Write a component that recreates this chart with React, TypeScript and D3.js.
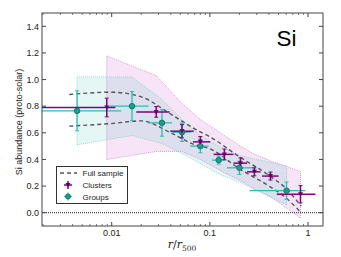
import React from "react";
import * as d3 from "d3";

// ---- data ----
const clusterX = [0.0089, 0.0284, 0.052, 0.08, 0.1405, 0.205, 0.284, 0.414, 0.838];
const clusterY = [0.79, 0.757, 0.612, 0.532, 0.438, 0.372, 0.307, 0.275, 0.138];
const clusterXLo = [0.0005, 0.0178, 0.0395, 0.0673, 0.109, 0.174, 0.239, 0.34, 0.48];
const clusterXHi = [0.0109, 0.0389, 0.0684, 0.101, 0.174, 0.239, 0.328, 0.5, 1.19];
const clusterYErr = [0.07, 0.04, 0.05, 0.04, 0.04, 0.04, 0.03, 0.03, 0.065];
const clusterBandHi = [1.177, 1.03, 0.82, 0.7, 0.58, 0.5, 0.44, 0.39, 0.31];
const clusterBandLo = [0.4, 0.46, 0.46, 0.4, 0.3, 0.24, 0.18, 0.12, -0.04];

const groupX = [0.00444, 0.0161, 0.0325, 0.052, 0.08, 0.123, 0.2, 0.604];
const groupY = [0.765, 0.8, 0.675, 0.605, 0.5, 0.395, 0.337, 0.165];
const groupXLo = [0.0005, 0.0095, 0.0232, 0.042, 0.063, 0.105, 0.149, 0.254];
const groupXHi = [0.0125, 0.0237, 0.041, 0.064, 0.097, 0.144, 0.29, 0.94];
const groupYErr = [0.15, 0.11, 0.1, 0.07, 0.05, 0.03, 0.05, 0.065];
const groupBandHi = [1.02, 1.02, 0.85, 0.7, 0.58, 0.5, 0.43, 0.35];
const groupBandLo = [0.51, 0.58, 0.52, 0.445, 0.37, 0.29, 0.23, 0.058];

const fullX = [0.0037, 0.01, 0.02, 0.04, 0.07, 0.1, 0.2, 0.4, 0.6, 0.85];
const fullUpper = [0.888, 0.905, 0.87, 0.74, 0.63, 0.57, 0.42, 0.28, 0.18, 0.05];
const fullLower = [0.65, 0.67, 0.69, 0.6, 0.51, 0.48, 0.33, 0.2, 0.11, 0.0];

const yTicks = [0.0, 0.2, 0.4, 0.6, 0.8, 1.0, 1.2, 1.4];
const xTicks = [0.01, 0.1, 1];
const xTickLabels = ["0.01", "0.1", "1"];

const W = 341, H = 257;
const L = 42, R = 323, T = 13, B = 226;
const FONT = "Liberation Sans, Arial, Helvetica, sans-serif";

const PURPLE = "#800080";
const TEAL = "#2bbdb0";

export default function App() {
  const x = d3.scaleLog().domain([0.00195, 1.42]).range([L, R]);
  const y = d3.scaleLinear().domain([-0.1, 1.5]).range([B, T]);

  const band = (xs: number[], lo: number[], hi: number[]) =>
    d3.area<number>().x((_, i) => x(xs[i])).y0((_, i) => y(lo[i])).y1((_, i) => y(hi[i]))(xs.map((_, i) => i)) || "";
  const edge = (xs: number[], ys: number[]) =>
    d3.line<number>().x((_, i) => x(xs[i])).y((_, i) => y(ys[i]))(xs.map((_, i) => i)) || "";
  const curve = (xs: number[], ys: number[]) =>
    d3.line<number>().curve(d3.curveMonotoneX).x((_, i) => x(xs[i])).y((_, i) => y(ys[i]))(xs.map((_, i) => i)) || "";

  const minorX: number[] = [];
  for (let e = -3; e <= 0; e++) for (let m = 1; m <= 9; m++) {
    const v = m * Math.pow(10, e);
    if (v >= 0.00195 && v <= 1.42 && m !== 1) minorX.push(v);
  }

  const clipId = "plotclip";

  return (
    <svg width={W} height={H} style={{ position: "absolute", left: 0, top: 0, background: "#fff" }} fontFamily={FONT}>
      <defs>
        <clipPath id={clipId}><rect x={L} y={T} width={R - L} height={B - T} /></clipPath>
      </defs>
      <rect x={0} y={0} width={W} height={H} fill="#fff" />
      <g clipPath={`url(#${clipId})`}>
        {/* bands */}
        <path d={band(clusterX, clusterBandLo, clusterBandHi)} fill="#cc55cc" fillOpacity={0.16} />
        <path d={band(groupX, groupBandLo, groupBandHi)} fill="#30c0b0" fillOpacity={0.13} />
        <path d={edge(clusterX, clusterBandHi)} fill="none" stroke="#d08ad0" strokeWidth={0.8} strokeDasharray="1,1" />
        <path d={edge(clusterX, clusterBandLo)} fill="none" stroke="#d08ad0" strokeWidth={0.8} strokeDasharray="1,1" />
        <path d={edge(groupX, groupBandHi)} fill="none" stroke="#7fd4cc" strokeWidth={0.8} strokeDasharray="1,1" />
        <path d={edge(groupX, groupBandLo)} fill="none" stroke="#7fd4cc" strokeWidth={0.8} strokeDasharray="1,1" />
        <line x1={x(clusterX[0])} x2={x(clusterX[0])} y1={y(clusterBandLo[0])} y2={y(clusterBandHi[0])} stroke="#d08ad0" strokeWidth={0.8} strokeDasharray="1,1" />
        <line x1={x(clusterX[8])} x2={x(clusterX[8])} y1={y(clusterBandLo[8])} y2={y(clusterBandHi[8])} stroke="#d08ad0" strokeWidth={0.8} strokeDasharray="1,1" />
        <line x1={x(groupX[0])} x2={x(groupX[0])} y1={y(groupBandLo[0])} y2={y(groupBandHi[0])} stroke="#7fd4cc" strokeWidth={0.8} strokeDasharray="1,1" />
        <line x1={x(groupX[7])} x2={x(groupX[7])} y1={y(groupBandLo[7])} y2={y(groupBandHi[7])} stroke="#7fd4cc" strokeWidth={0.8} strokeDasharray="1,1" />

        {/* zero line */}
        <line x1={L} x2={R} y1={y(0)} y2={y(0)} stroke="#222" strokeWidth={1} strokeDasharray="1,1" />

        {/* full sample */}
        <path d={curve(fullX, fullUpper)} fill="none" stroke="#555" strokeWidth={1.4} strokeDasharray="4,3" />
        <path d={curve(fullX, fullLower)} fill="none" stroke="#555" strokeWidth={1.4} strokeDasharray="4,3" />

        {/* groups */}
        {groupX.map((gx, i) => (
          <g key={"g" + i}>
            <line x1={x(groupXLo[i])} x2={x(groupXHi[i])} y1={y(groupY[i])} y2={y(groupY[i])} stroke={TEAL} strokeWidth={1.3} />
            <line x1={x(gx)} x2={x(gx)} y1={y(groupY[i] - groupYErr[i])} y2={y(groupY[i] + groupYErr[i])} stroke={TEAL} strokeWidth={1.3} />
            <line x1={x(gx) - 2} x2={x(gx) + 2} y1={y(groupY[i] - groupYErr[i])} y2={y(groupY[i] - groupYErr[i])} stroke={TEAL} strokeWidth={1} />
            <line x1={x(gx) - 2} x2={x(gx) + 2} y1={y(groupY[i] + groupYErr[i])} y2={y(groupY[i] + groupYErr[i])} stroke={TEAL} strokeWidth={1} />
          </g>
        ))}
        {/* clusters */}
        {clusterX.map((cx, i) => (
          <g key={"c" + i}>
            <line x1={x(clusterXLo[i])} x2={x(clusterXHi[i])} y1={y(clusterY[i])} y2={y(clusterY[i])} stroke={PURPLE} strokeWidth={1.5} />
            <line x1={x(cx)} x2={x(cx)} y1={y(clusterY[i] - clusterYErr[i])} y2={y(clusterY[i] + clusterYErr[i])} stroke={PURPLE} strokeWidth={1.5} />
            <line x1={x(cx) - 2} x2={x(cx) + 2} y1={y(clusterY[i] - clusterYErr[i])} y2={y(clusterY[i] - clusterYErr[i])} stroke={PURPLE} strokeWidth={1} />
            <line x1={x(cx) - 2} x2={x(cx) + 2} y1={y(clusterY[i] + clusterYErr[i])} y2={y(clusterY[i] + clusterYErr[i])} stroke={PURPLE} strokeWidth={1} />
          </g>
        ))}
        {groupX.map((gx, i) => (
          <circle key={"gm" + i} cx={x(gx)} cy={y(groupY[i])} r={2.8} fill="#1e9c8e" stroke="#0d6b62" strokeWidth={0.8} />
        ))}
        {clusterX.map((cx, i) => (
          <path key={"cm" + i} d={`M${x(cx) - 2.5},${y(clusterY[i]) - 2} L${x(cx) + 2.5},${y(clusterY[i]) - 2} L${x(cx)},${y(clusterY[i]) + 2.5} Z`} fill="#5a0a5a" />
        ))}
      </g>

      {/* frame */}
      <rect x={L} y={T} width={R - L} height={B - T} fill="none" stroke="#444" strokeWidth={1} />

      {/* y ticks */}
      {yTicks.map((t) => (
        <g key={"yt" + t}>
          <line x1={L} x2={L + 4} y1={y(t)} y2={y(t)} stroke="#444" />
          <line x1={R} x2={R - 4} y1={y(t)} y2={y(t)} stroke="#444" />
          <text x={L - 3} y={y(t) + 3.2} fontSize={9} textAnchor="end" fill="#222">{t.toFixed(1)}</text>
        </g>
      ))}
      {/* x ticks */}
      {xTicks.map((t, i) => (
        <g key={"xt" + t}>
          <line x1={x(t)} x2={x(t)} y1={B} y2={B - 4} stroke="#444" />
          <line x1={x(t)} x2={x(t)} y1={T} y2={T + 4} stroke="#444" />
          <text x={x(t)} y={B + 10} fontSize={9} textAnchor="middle" fill="#222">{xTickLabels[i]}</text>
        </g>
      ))}
      {minorX.map((t) => (
        <g key={"xm" + t}>
          <line x1={x(t)} x2={x(t)} y1={B} y2={B - 2} stroke="#444" strokeWidth={0.7} />
          <line x1={x(t)} x2={x(t)} y1={T} y2={T + 2} stroke="#444" strokeWidth={0.7} />
        </g>
      ))}

      {/* label Si */}
      <text x={276.5} y={45.7} fontSize={22.5} fill="#000">Si</text>

      {/* axis labels */}
      <text transform={`translate(22,122) rotate(-90)`} fontSize={9} textAnchor="middle" fill="#222">Si abundance (proto-solar)</text>
      <text x={182} y={248} textAnchor="middle" fill="#222" fontFamily="DejaVu Serif, Liberation Serif, serif">
        <tspan fontStyle="italic" fontSize={11}>r</tspan>
        <tspan fontSize={11}>/</tspan>
        <tspan fontStyle="italic" fontSize={11}>r</tspan>
        <tspan fontSize={7.5} dy={2.5}>500</tspan>
      </text>

      {/* legend */}
      <g>
        <rect x={56.5} y={166.5} width={71} height={37} fill="#fff" stroke="#333" strokeWidth={1} />
        <line x1={60} x2={77} y1={173} y2={173} stroke="#555" strokeWidth={1.4} strokeDasharray="4,3" />
        <text x={82.5} y={176} fontSize={8} fill="#222">Full sample</text>
        <line x1={64} x2={72} y1={185} y2={185} stroke={PURPLE} strokeWidth={1.5} />
        <line x1={68} x2={68} y1={181} y2={189} stroke={PURPLE} strokeWidth={1.5} />
        <path d={`M65.5,183 L70.5,183 L68,187.5 Z`} fill="#5a0a5a" />
        <text x={82.5} y={188} fontSize={8} fill="#222">Clusters</text>
        <line x1={64} x2={72} y1={196.5} y2={196.5} stroke={TEAL} strokeWidth={1.3} />
        <line x1={68} x2={68} y1={192.5} y2={200.5} stroke={TEAL} strokeWidth={1.3} />
        <circle cx={68} cy={196.5} r={2.5} fill="#1e9c8e" stroke="#0d6b62" strokeWidth={0.8} />
        <text x={82.5} y={199.5} fontSize={8} fill="#222">Groups</text>
      </g>
    </svg>
  );
}
